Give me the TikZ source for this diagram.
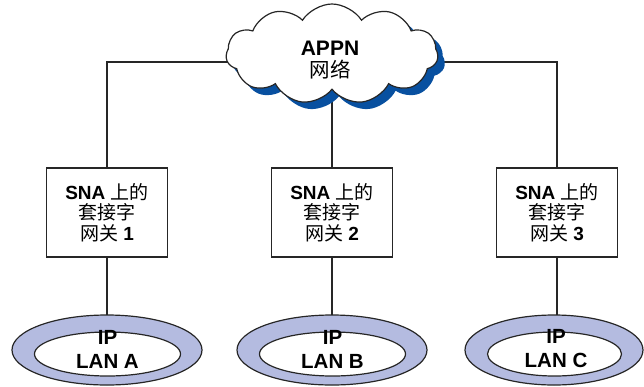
\documentclass[tikz,border=0pt]{standalone}
\usepackage{fontspec}
\setmainfont{Liberation Sans}
\newfontfamily\cjk{Noto Sans CJK SC}
\usetikzlibrary{shapes.symbols}
\definecolor{shadowblue}{RGB}{8,80,160}
\definecolor{ringfill}{RGB}{180,187,224}
\tikzset{
  conn/.style={draw=black!85, line width=1.1pt},
  gwbox/.style={draw=black!85, line width=1.2pt, fill=white, minimum width=121pt, minimum height=89pt, align=center, font=\fontsize{19}{20.5}\selectfont, inner sep=0pt},
  cloudshape/.style={cloud, cloud puffs=11, cloud puff arc=115, aspect=2.1, minimum width=212pt, minimum height=100pt, inner sep=0pt},
  lantext/.style={align=center, font=\fontsize{20.5}{24}\selectfont\bfseries, inner sep=0pt},
}
\begin{document}
\begin{tikzpicture}[x=1pt,y=-1pt]
\useasboundingbox (0,0) rectangle (644,386);
% gateway boxes
\node[gwbox] (b1) at (107,212.5) {{\bfseries SNA} {\cjk 上的}\\{\cjk 套接字}\\{\cjk 网关} {\bfseries 1}};
\node[gwbox] (b2) at (332,212.5) {{\bfseries SNA} {\cjk 上的}\\{\cjk 套接字}\\{\cjk 网关} {\bfseries 2}};
\node[gwbox] (b3) at (557,212.5) {{\bfseries SNA} {\cjk 上的}\\{\cjk 套接字}\\{\cjk 网关} {\bfseries 3}};
% cloud anchor coordinates
\coordinate (cc) at (332,54);
\coordinate (cj) at (332,62);
% connectors (behind cloud)
\draw[conn] (b1.north) |- (cj);
\draw[conn] (b3.north) |- (cj);
\draw[conn] (b2.north) -- (cc);
% cloud
\node[cloudshape, fill=shadowblue] (cls) at (339,61) {};
\node[cloudshape, draw=black!85, line width=1.2pt, fill=white] (cl) at (cc) {};
\node[inner sep=0pt, font=\fontsize{21}{22}\selectfont\bfseries] (t1) at (330,48.5) {APPN};
\node[inner sep=0pt, font=\fontsize{20.5}{22}\selectfont\cjk] (t2) at (330,69.5) {网络};
% LAN rings
\foreach \n/\x/\rx/\lbl in {la/107/95/A, lb/332/95/B, lc/554/89/C}{
  \draw[line width=1.2pt, draw=black!85, fill=ringfill] (\x,350) ellipse ({\rx} and 35);
  \draw[line width=1.2pt, draw=black!85, fill=white] (\x+0.5,354) ellipse ({\rx-22} and 22);
}
\coordinate (la) at (107,315);
\coordinate (lb) at (332,315);
\coordinate (lc) at (557,315);
\draw[conn] (b1.south) -- (la);
\draw[conn] (b2.south) -- (lb);
\draw[conn] (b3.south) -- (lc);
\node[lantext] (ta) at (107.5,349) {IP\\LAN A};
\node[lantext] (tb) at (332.5,349) {IP\\LAN B};
\node[lantext] (tc) at (556,349) {IP\\LAN C};
\end{tikzpicture}
\end{document}
